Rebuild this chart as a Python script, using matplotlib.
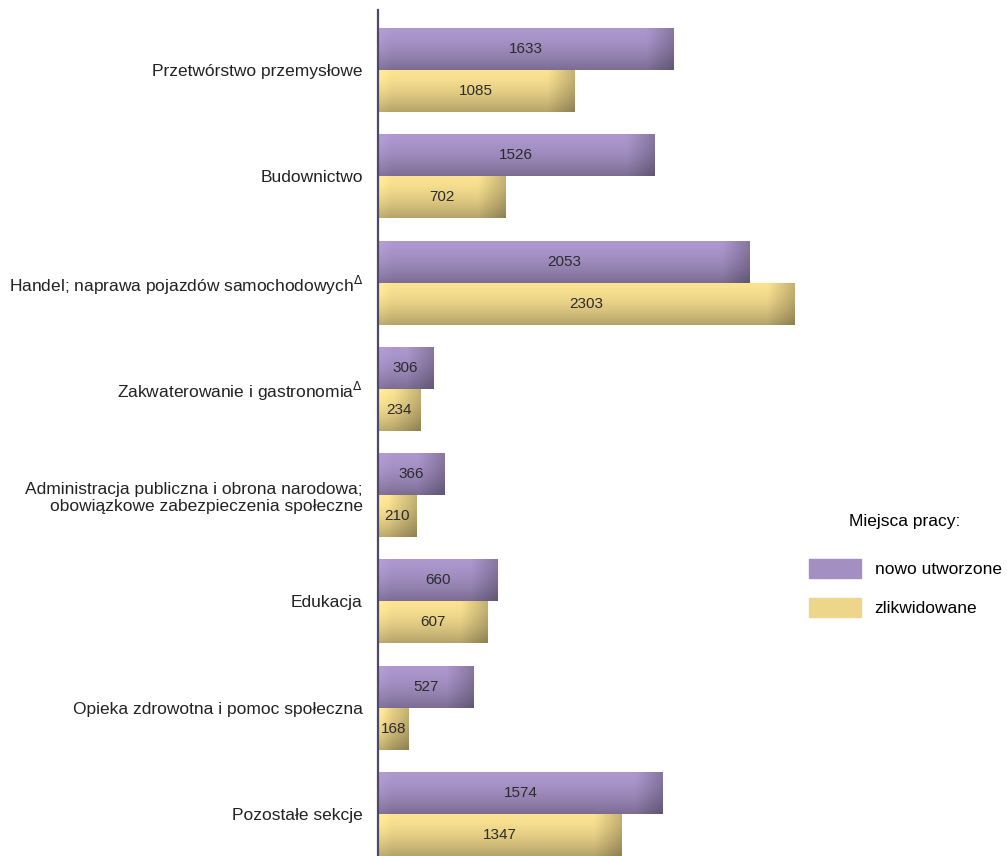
"""Nowo utworzone i zlikwidowane miejsca pracy według sekcji."""
import matplotlib
matplotlib.use("Agg")
import matplotlib.pyplot as plt
import matplotlib.patches as mpatches
import numpy as np

plt.rcParams["font.family"] = ["Liberation Sans", "DejaVu Sans"]

categories = [
    "Przetwórstwo przemysłowe",
    "Budownictwo",
    "Handel; naprawa pojazdów samochodowych$^{\\Delta}$",
    "Zakwaterowanie i gastronomia$^{\\Delta}$",
    "Administracja publiczna i obrona narodowa;\nobowiązkowe zabezpieczenia społeczne",
    "Edukacja",
    "Opieka zdrowotna i pomoc społeczna",
    "Pozostałe sekcje",
]
created = [1633, 1526, 2053, 306, 366, 660, 527, 1574]
liquidated = [1085, 702, 2303, 234, 210, 607, 168, 1347]
series_names = ["nowo utworzone", "zlikwidowane"]

purple = np.array([0.64, 0.56, 0.76])
yellow = np.array([0.93, 0.84, 0.54])


def shade_bar(ax, bar, base):
    x0, y0 = bar.get_x(), bar.get_y()
    w, h = bar.get_width(), bar.get_height()
    nx, ny = 300, 60
    xs = np.linspace(x0, x0 + w, nx)
    t = np.linspace(0, 1, ny)[:, None]
    vert = 1.06 - 0.30 * t ** 1.6
    end = np.clip((xs - (x0 + w - 150)) / 150, 0, 1)[None, :]
    start = np.clip(1 - (xs - x0) / 80, 0, 1)[None, :]
    fac = vert * (1 - 0.22 * end) + 0.05 * start
    img = np.clip(base[None, None, :] * fac[:, :, None], 0, 1)
    ax.imshow(img, extent=(x0, x0 + w, y0, y0 + h), origin="lower",
              aspect="auto", interpolation="bilinear", zorder=2)


fig = plt.figure(figsize=(10.07, 8.56), dpi=100)
ax = fig.add_axes([378 / 1007, 0, 1 - 378 / 1007, 846 / 856])

y = np.arange(len(categories))
h = 0.395
bars1 = ax.barh(y - h / 2, created, height=h, color=purple, zorder=1)
bars2 = ax.barh(y + h / 2, liquidated, height=h, color=yellow, zorder=1)

for bars, base, vals in [(bars1, purple, created), (bars2, yellow, liquidated)]:
    for bar, v in zip(bars, vals):
        shade_bar(ax, bar, base)
        ax.text(bar.get_x() + bar.get_width() / 2,
                bar.get_y() + bar.get_height() / 2, f"{v}",
                ha="center", va="center", fontsize=11, color="#2b2b2b",
                zorder=3)

ax.set_xlim(0, 3475)
ax.set_ylim(len(categories) - 1 + h, -0.564)
ax.set_yticks(y)
ax.set_yticklabels(categories, fontsize=12.5, color="#222222")
ax.tick_params(axis="y", length=0, pad=11)
ax.set_xticks([])
for side in ["top", "right", "bottom"]:
    ax.spines[side].set_visible(False)
ax.spines["left"].set_color("#4b4a6b")
ax.spines["left"].set_linewidth(1.6)

handles = [mpatches.Patch(color=purple, label=series_names[0]),
           mpatches.Patch(color=yellow, label=series_names[1])]
leg = fig.legend(handles=handles, title="Miejsca pracy:", loc="upper left",
                 bbox_to_anchor=(793 / 1007, 1 - 498 / 856), frameon=False,
                 fontsize=12.5, title_fontsize=12.5, handlelength=3.0,
                 handleheight=1.3, labelspacing=1.15, handletextpad=0.8)
leg._legend_box.sep = 22

fig.savefig("out.png", dpi=100)
